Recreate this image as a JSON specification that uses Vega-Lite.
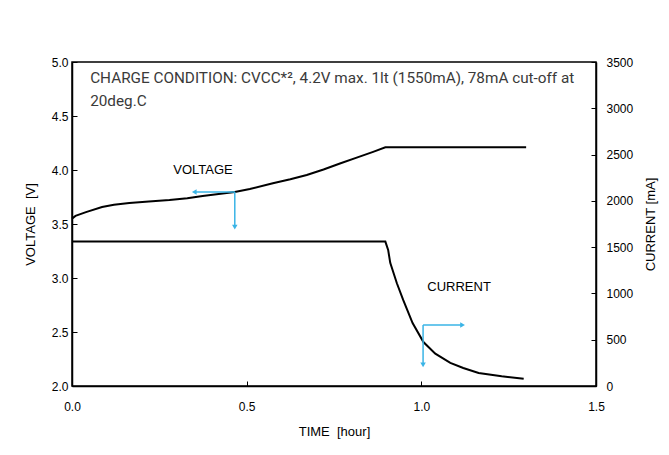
{
  "$schema": "https://vega.github.io/schema/vega-lite/v6.json",
  "autosize": {"type": "none"},
  "width": 524,
  "height": 324,
  "padding": {"left": 72, "top": 62, "right": 73, "bottom": 69},
  "background": "white",
  "config": {
    "view": {"stroke": "#000000", "strokeWidth": 1.5},
    "axis": {
      "grid": false,
      "domainColor": "#000000",
      "domainWidth": 1.5,
      "tickColor": "#000000",
      "tickSize": -5,
      "labelFlush": false,
      "labelFont": "Liberation Sans",
      "labelFontSize": 12,
      "labelColor": "#000000",
      "titleFont": "Liberation Sans",
      "titleFontSize": 13,
      "titleFontWeight": "normal",
      "titleColor": "#000000"
    }
  },
  "datasets": {
    "voltage": [
      {"t": 0.0, "v": 3.55}, {"t": 0.01, "v": 3.575}, {"t": 0.04, "v": 3.61},
      {"t": 0.086, "v": 3.657}, {"t": 0.12, "v": 3.678}, {"t": 0.164, "v": 3.694},
      {"t": 0.22, "v": 3.708}, {"t": 0.279, "v": 3.722}, {"t": 0.33, "v": 3.738},
      {"t": 0.374, "v": 3.759}, {"t": 0.42, "v": 3.777}, {"t": 0.466, "v": 3.796},
      {"t": 0.509, "v": 3.824}, {"t": 0.575, "v": 3.878}, {"t": 0.625, "v": 3.915},
      {"t": 0.672, "v": 3.954}, {"t": 0.72, "v": 4.005}, {"t": 0.767, "v": 4.06},
      {"t": 0.815, "v": 4.115}, {"t": 0.862, "v": 4.168}, {"t": 0.897, "v": 4.21},
      {"t": 1.3, "v": 4.21}
    ],
    "current": [
      {"t": 0.0, "i": 1560}, {"t": 0.897, "i": 1560}, {"t": 0.905, "i": 1470},
      {"t": 0.911, "i": 1330}, {"t": 0.93, "i": 1110}, {"t": 0.948, "i": 930},
      {"t": 0.975, "i": 680}, {"t": 1.006, "i": 475}, {"t": 1.04, "i": 350},
      {"t": 1.083, "i": 250}, {"t": 1.12, "i": 195}, {"t": 1.164, "i": 140},
      {"t": 1.23, "i": 105}, {"t": 1.293, "i": 78}
    ],
    "vArrows": [
      {"t": 0.466, "t2": 0.35, "v": 3.796, "v2": 3.796},
      {"t": 0.466, "t2": 0.466, "v": 3.796, "v2": 3.48}
    ],
    "vHeads": [
      {"t": 0.35, "v": 3.796, "shape": "triangle-left"},
      {"t": 0.466, "v": 3.47, "shape": "triangle-down"}
    ],
    "iArrows": [
      {"t": 1.005, "t2": 1.115, "i": 659, "i2": 659},
      {"t": 1.005, "t2": 1.005, "i": 659, "i2": 240}
    ],
    "iHeads": [
      {"t": 1.118, "i": 659, "shape": "triangle-right"},
      {"t": 1.005, "i": 228, "shape": "triangle-down"}
    ],
    "vLabels": [
      {"t": 0.375, "v": 4.0, "label": "VOLTAGE"}
    ],
    "note": [
      {"t": 0.052, "v": 4.915, "label": "CHARGE CONDITION: CVCC*², 4.2V max. 1lt (1550mA), 78mA cut-off at\n20deg.C"}
    ],
    "iLabels": [
      {"t": 1.108, "i": 1069, "label": "CURRENT"}
    ]
  },
  "layer": [
    {
      "layer": [
        {
          "data": {"name": "voltage"},
          "mark": {"type": "line", "color": "#000000", "strokeWidth": 2},
          "encoding": {
            "x": {"field": "t", "type": "quantitative",
                  "scale": {"domain": [0, 1.5], "nice": false},
                  "axis": {"values": [0, 0.5, 1.0, 1.5], "format": ".1f", "labelPadding": 20, "title": "TIME\u00a0 [hour]", "titlePadding": 13}},
            "y": {"field": "v", "type": "quantitative",
                  "scale": {"domain": [2, 5], "nice": false, "zero": false},
                  "axis": {"values": [2, 2.5, 3, 3.5, 4, 4.5, 5], "format": ".1f", "labelPadding": 9, "title": "VOLTAGE\u00a0 [V]", "titlePadding": 14}}
          }
        },
        {
          "data": {"name": "vArrows"},
          "mark": {"type": "rule", "color": "#3ab4e6", "strokeWidth": 1.5},
          "encoding": {
            "x": {"field": "t", "type": "quantitative"},
            "x2": {"field": "t2"},
            "y": {"field": "v", "type": "quantitative"},
            "y2": {"field": "v2"}
          }
        },
        {
          "data": {"name": "vHeads"},
          "mark": {"type": "point", "filled": true, "color": "#3ab4e6", "opacity": 1, "size": 30},
          "encoding": {
            "x": {"field": "t", "type": "quantitative"},
            "y": {"field": "v", "type": "quantitative"},
            "shape": {"field": "shape", "type": "nominal", "scale": null}
          }
        },
        {
          "data": {"name": "vLabels"},
          "mark": {"type": "text", "font": "Liberation Sans", "fontSize": 13, "color": "#000000", "align": "center", "baseline": "middle"},
          "encoding": {
            "x": {"field": "t", "type": "quantitative"},
            "y": {"field": "v", "type": "quantitative"},
            "text": {"field": "label"}
          }
        },
        {
          "data": {"name": "note"},
          "mark": {"type": "text", "font": "Roboto", "fontSize": 15.3, "color": "#3a3a3a", "align": "left", "baseline": "top", "lineBreak": "\n", "lineHeight": 23},
          "encoding": {
            "x": {"field": "t", "type": "quantitative"},
            "y": {"field": "v", "type": "quantitative"},
            "text": {"field": "label"}
          }
        }
      ]
    },
    {
      "layer": [
        {
          "data": {"name": "current"},
          "mark": {"type": "line", "color": "#000000", "strokeWidth": 2},
          "encoding": {
            "x": {"field": "t", "type": "quantitative"},
            "y": {"field": "i", "type": "quantitative",
                  "scale": {"domain": [0, 3500], "nice": false},
                  "axis": {"orient": "right", "values": [0, 500, 1000, 1500, 2000, 2500, 3000, 3500], "format": "d", "labelPadding": 15, "title": "CURRENT [mA]", "titleAngle": -90, "titleBaseline": "top", "titlePadding": 12}}
          }
        },
        {
          "data": {"name": "iArrows"},
          "mark": {"type": "rule", "color": "#3ab4e6", "strokeWidth": 1.5},
          "encoding": {
            "x": {"field": "t", "type": "quantitative"},
            "x2": {"field": "t2"},
            "y": {"field": "i", "type": "quantitative"},
            "y2": {"field": "i2"}
          }
        },
        {
          "data": {"name": "iHeads"},
          "mark": {"type": "point", "filled": true, "color": "#3ab4e6", "opacity": 1, "size": 30},
          "encoding": {
            "x": {"field": "t", "type": "quantitative"},
            "y": {"field": "i", "type": "quantitative"},
            "shape": {"field": "shape", "type": "nominal", "scale": null}
          }
        },
        {
          "data": {"name": "iLabels"},
          "mark": {"type": "text", "font": "Liberation Sans", "fontSize": 13, "color": "#000000", "align": "center", "baseline": "middle"},
          "encoding": {
            "x": {"field": "t", "type": "quantitative"},
            "y": {"field": "i", "type": "quantitative"},
            "text": {"field": "label"}
          }
        }
      ]
    }
  ],
  "resolve": {"scale": {"y": "independent"}}
}
